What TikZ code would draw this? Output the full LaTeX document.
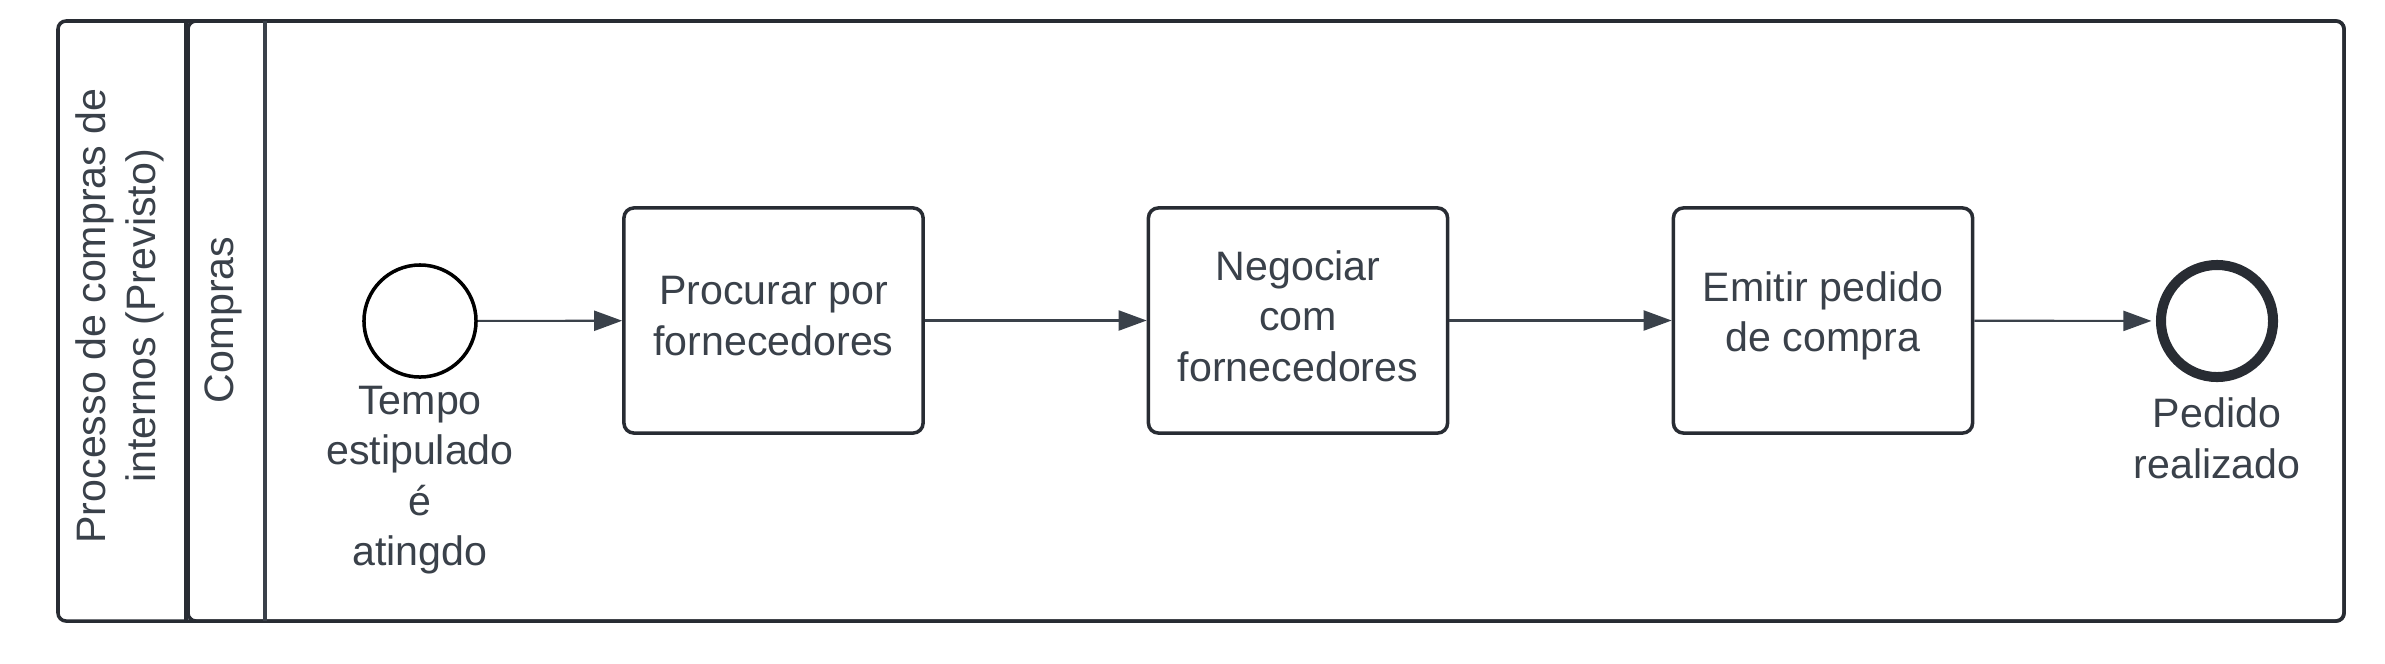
\documentclass[tikz,border=0pt]{standalone}
\usepackage{fontspec}
\setmainfont{Liberation Sans}
\usetikzlibrary{arrows.meta}
\definecolor{txt}{HTML}{3A414A}
\definecolor{frame}{HTML}{282C33}
\begin{document}
\begin{tikzpicture}[x=0.01cm,y=-0.01cm,
  lbl/.style={text=txt, align=center, inner sep=0pt, font=\fontsize{11.7}{14.4}\selectfont},
  task/.style={draw=frame, line width=1pt, rounded corners=0.1cm, minimum width=2.99cm, minimum height=2.25cm, fill=white, inner sep=0pt,
    label={[lbl, yshift=0.045cm]center:#1}},
  startev/.style={circle, draw=black, line width=1pt, minimum size=1.12cm, inner sep=0pt, fill=white},
  endev/.style={circle, draw=frame, line width=2.85pt, minimum size=1.12cm, inner sep=0pt, fill=white},
  flow/.style={draw=txt, line width=0.6pt, -{Triangle[length=0.28cm,width=0.2cm]}},
  border/.style={draw=frame, line width=1pt}
]
\useasboundingbox (0,0) rectangle (2385,663);
\fill[white] (0,0) rectangle (2385,663);
% pool and lane
\draw[border, rounded corners=0.08cm] (58,21) rectangle (2344,621);
\draw[border] (186,21) -- (186,621);
\draw[border, rounded corners=0.08cm] (188,21) rectangle (2344,621);
\draw[border, draw=txt] (265,21) -- (265,621);
\node[lbl, rotate=90] (pool) at (120,316) {Processo de compras de\\internos (Previsto)};
\node[lbl, rotate=90] (lane) at (223,320) {Compras};
% events and tasks
\node[startev] (start) at (420,321) {};
\node[lbl, anchor=north] (startlbl) at (420,385) {Tempo\\estipulado\\é\\atingdo};
\node[task={Procurar por\\fornecedores}] (t1) at (773.5,320.5) {};
\node[task={Negociar\\com\\fornecedores}] (t2) at (1298,320.5) {};
\node[task={Emitir pedido\\de compra}] (t3) at (1823,320.5) {};
\node[endev] (end) at (2217,321) {};
\node[lbl, anchor=north] (endlbl) at (2217,397) {Pedido\\realizado};
% flows
\draw[flow] (start) -- (t1);
\draw[flow] (t1) -- (t2);
\draw[flow] (t2) -- (t3);
\draw[flow, shorten >=0.045cm] (t3) -- (end);
\end{tikzpicture}
\end{document}
